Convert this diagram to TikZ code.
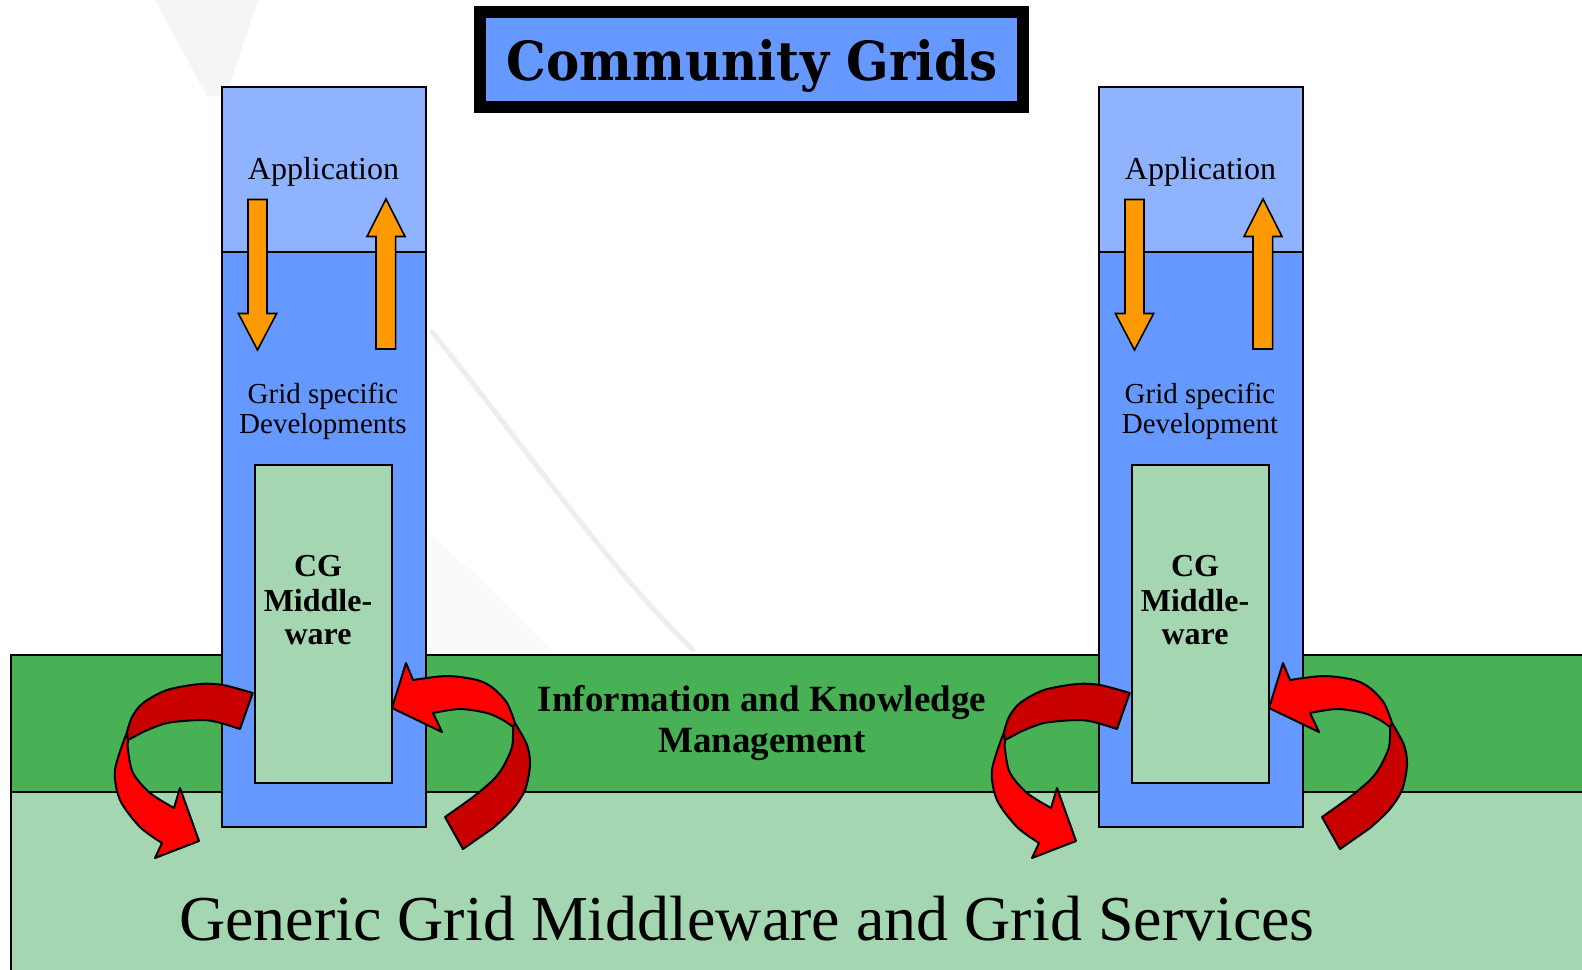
\documentclass[tikz,border=0pt]{standalone}
\usepackage{fontspec}
\setmainfont{Liberation Serif}
\newfontfamily\titlefont{DejaVu Serif}
\usepackage{graphicx}
\definecolor{colblue}{HTML}{6699FF}
\definecolor{lightblue}{HTML}{8FB3FF}
\definecolor{palegreen}{HTML}{A3D6B1}
\definecolor{bandgreen}{HTML}{48B155}
\definecolor{orangeA}{HTML}{FF9900}
\definecolor{redA}{HTML}{FF0000}
\definecolor{darkredA}{HTML}{C80000}
\definecolor{watermark}{HTML}{F5F5F5}
\definecolor{watermarkline}{HTML}{EEEEEE}
\tikzset{
 outline/.style={draw=black, line width=1pt},
 box/.style={outline, inner sep=0pt, anchor=north west},
 lbl/.style={anchor=base, inner sep=0pt, font=\fontsize{16}{16}\selectfont},
 gslbl/.style={anchor=base, inner sep=0pt, font=\fontsize{14.5}{15}\selectfont},
 cglbl/.style={anchor=base, inner sep=0pt, font=\fontsize{16}{17}\selectfont\bfseries},
 imlbl/.style={anchor=base, inner sep=0pt, font=\fontsize{18.5}{20}\selectfont\bfseries},
 orangearrow/.style={fill=orangeA, draw=black, line width=0.8pt, line join=miter},
 ribbonfront/.style={fill=redA, draw=black, line width=1pt, line join=round},
 ribbonback/.style={fill=darkredA, draw=black, line width=1pt, line join=round},
}
\newcommand\gridcolumn[3]{%
\begin{scope}[shift={(#1,0)}]
 \node[box, fill=colblue, minimum width=102pt, minimum height=370pt] (#2col) at (221,86) {};
 \node[box, fill=lightblue, minimum width=102pt, minimum height=82.5pt] (#2app) at (221,86) {};
 \node[box, fill=palegreen, minimum width=68.5pt, minimum height=158.75pt] (#2cg) at (253.5,464) {};
 \node[lbl] (#2apptext) at (323.5,179) {Application};
 \node[gslbl] (#2gsa) at (323,403) {Grid specific};
 \node[gslbl] (#2gsb) at (323,433.5) {#3};
 \node[cglbl] (#2cga) at (318,576.6) {CG};
 \node[cglbl] (#2cgb) at (318,611) {Middle-};
 \node[cglbl] (#2cgc) at (318,644) {ware};
 % orange arrows
 \draw[orangearrow] (248,199.5) -- (267,199.5) -- (267,313.5) -- (276.6,313.5) -- (257.5,350) -- (238.4,313.5) -- (248,313.5) -- cycle;
 \draw[orangearrow] (376,349) -- (395.6,349) -- (395.6,236.5) -- (405,236.5) -- (386,199) -- (367,236.5) -- (376,236.5) -- cycle;
 % red curved arrow, left side
 \draw[ribbonfront] plot[smooth] coordinates {(127,732) (115,770) (120,800) (140,827) (162,843)} -- (155,858) -- (199,841) -- (180,788) -- plot[smooth] coordinates {(174,808) (150,793) (133,773) (128,750) (128,740)} -- cycle;
 \draw[ribbonback] plot[smooth] coordinates {(252.7,693) (223,685) (200,684) (167,690) (143,703) (132,717) (127,732)} -- (128,740) -- plot[smooth] coordinates {(143,732) (167,723) (200,720) (217,722) (240,729)} -- cycle;
 % red curved arrow, right side
 \draw[ribbonfront] plot[smooth] coordinates {(515,723) (507,703) (493,688) (477,680) (447,676) (413,680)} -- (406,663) -- (392,708) -- (442,732) -- plot[smooth] coordinates {(433,713) (460,709) (487,713) (503,720) (513,727)} -- cycle;
 \draw[ribbonback] plot[smooth] coordinates {(513,727) (512,747) (503,767) (493,780) (473,797) (445,817)} -- (463,849) -- plot[smooth] coordinates {(493,828) (512,810) (525,790) (530,765) (527,745) (515,723)} -- cycle;
\end{scope}}
\begin{document}
\begin{tikzpicture}[x=0.5pt,y=-0.5pt]
\useasboundingbox (0,0) rectangle (1582,969);
\fill[white] (0,0) rectangle (1582,969);
% faint watermark
\fill[watermark] (155,0) -- (258,0) -- (226,96) -- (207,96) -- cycle;
\fill[watermark!50!white] (426,530) -- (470,570) -- (555,654) -- (426,654) -- cycle;
\draw[line width=2.5pt, watermarkline, line cap=round] (432,332) .. controls (520,440) and (610,570) .. (693,650);
% bands
\node[box, fill=bandgreen, minimum width=790pt, minimum height=68.5pt] (imband) at (10,654) {};
\node[box, fill=palegreen, minimum width=790pt, minimum height=92pt] (genband) at (10,791) {};
% columns
\gridcolumn{0}{L}{Developments}
\gridcolumn{877}{R}{Development}
% band labels
\node[imlbl] (ima) at (762,711) {Information and Knowledge};
\node[imlbl] (imb) at (762,752) {Management};
\node[anchor=base, inner sep=0pt, font=\fontsize{32}{32}\selectfont] (gen) at (747,940) {Generic Grid Middleware and Grid Services};
% title
\node[draw=black, line width=6pt, fill=colblue, minimum width=271.5pt, minimum height=47.5pt, inner sep=0pt] (titlebox) at (751.5,59.5) {};
\node[anchor=base, inner sep=0pt] (title) at (752,80) {\resizebox{245.3pt}{20.5pt}{\titlefont\bfseries Community Grids}};
\end{tikzpicture}
\end{document}
